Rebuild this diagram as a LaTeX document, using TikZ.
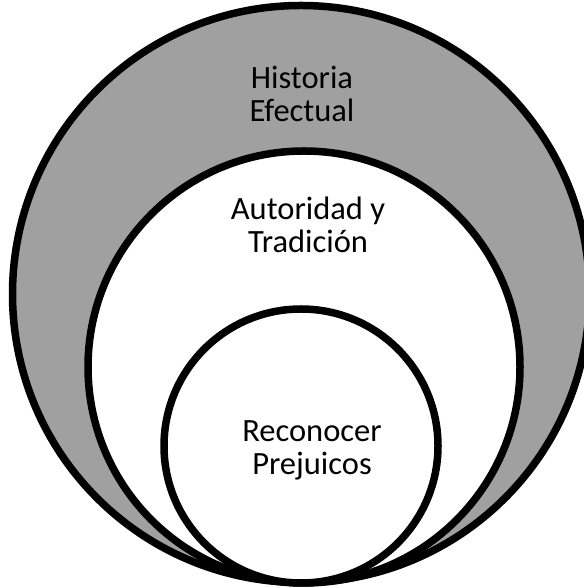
\documentclass[tikz,border=0pt]{standalone}
\usepackage{fontspec}
\setmainfont{Carlito}
\usepackage{tikz}
\usetikzlibrary{positioning}
\definecolor{ringgray}{HTML}{A0A0A0}

\begin{document}
\begin{tikzpicture}[
  x=1pt, y=1pt,
  ring/.style={circle, draw=black, line width=7.5pt, inner sep=0pt},
  lbl/.style={font=\fontsize{32.5}{33}\selectfont, align=center, text=black}
]
  \useasboundingbox (0,0) rectangle (583,588);

  % nested circles, all touching at the bottom
  \node[ring, fill=ringgray, minimum size=577pt] (historia) at (301,294) {};
  \node[ring, fill=white, minimum size=432pt] (autoridad) at (304,221) {};
  \node[ring, fill=white, minimum size=274pt] (prejuicio) at (301,142) {};

  \node[lbl] (historiatxt) at (302,494) {Historia\\Efectual};
  \node[lbl] (autoridadtxt) at (308,363) {Autoridad y\\Tradición};
  \node[lbl] (prejuiciotxt) at (312,138) {Reconocer\\Prejuicos};
\end{tikzpicture}
\end{document}
